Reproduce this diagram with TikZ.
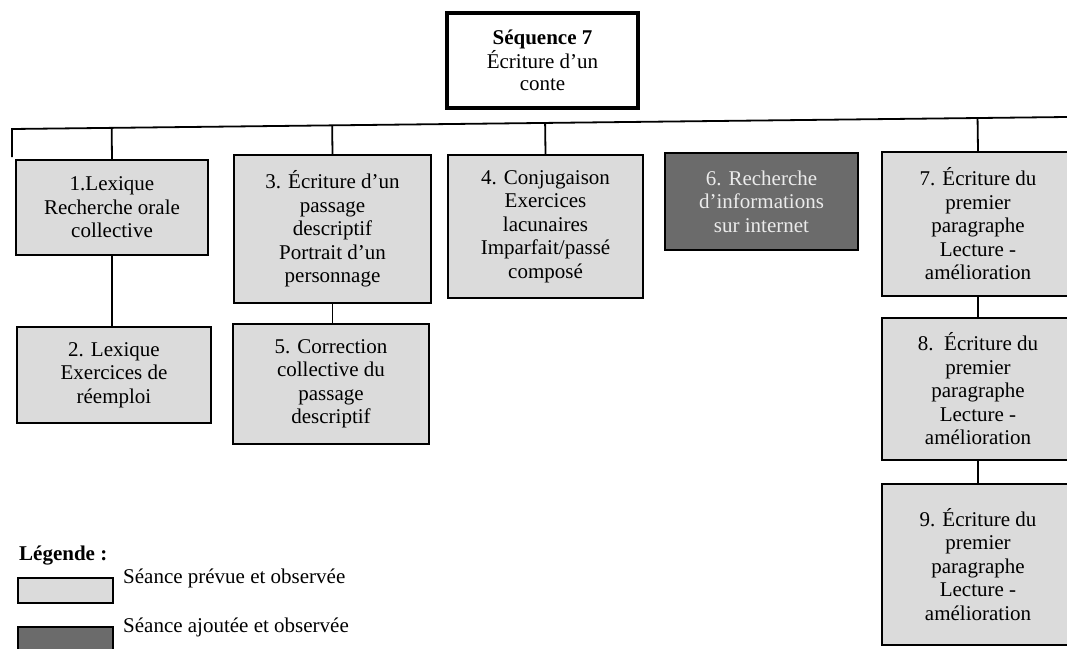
\documentclass[tikz,border=0pt]{standalone}
\usepackage{fontspec}
\setmainfont{Liberation Serif}
\usetikzlibrary{calc}
\definecolor{planned}{HTML}{DBDBDB}
\definecolor{added}{HTML}{6B6B6B}
\begin{document}
\begin{tikzpicture}[x=1pt,y=-1pt,
  box/.style={draw=black, line width=2pt, fill=planned, align=center,
    inner sep=0pt, font=\fontsize{21}{23.5}\selectfont},
  addedbox/.style={box, fill=added, text=white!92!black},
  link/.style={line width=1.8pt},
  legtext/.style={anchor=west, inner sep=0pt, font=\fontsize{21}{24}\selectfont}]
\useasboundingbox (0,0) rectangle (1067,648);
\clip (0,0) rectangle (1067,648);

% sequence title
\node[box, fill=white, line width=3.5pt, minimum width=191pt, minimum height=95pt,
  font=\fontsize{21}{22}\selectfont]
  (seq) at (542.5,60.5) {\textbf{Séquence 7}\\Écriture d’un\\conte};

% sessions
\node[box, minimum width=192pt, minimum height=95pt] (b1) at (112,207.5)
  {1.Lexique\\Recherche orale\\collective};
\node[box, minimum width=194pt, minimum height=96pt] (b2) at (114,375)
  {2. Lexique\\Exercices de\\réemploi};
\node[box, minimum width=197pt, minimum height=148pt] (b3) at (332.5,229)
  {3. Écriture d’un\\passage\\descriptif\\Portrait d’un\\personnage};
\node[box, minimum width=196pt, minimum height=120pt] (b5) at (331,384)
  {5. Correction\\collective du\\passage\\descriptif};
\node[box, minimum width=195pt, minimum height=143pt] (b4) at (545.5,226.5)
  {4. Conjugaison\\Exercices\\lacunaires\\Imparfait/passé\\composé};
\node[addedbox, minimum width=193pt, minimum height=97pt] (b6) at (761.5,201.5)
  {6. Recherche\\d’informations\\sur internet};
\node[box, minimum width=192pt, minimum height=144pt] (b7) at (978,224)
  {7. Écriture du\\premier\\paragraphe\\Lecture -\\amélioration};
\node[box, minimum width=192pt, minimum height=142pt] (b8) at (978,389)
  {8.~~Écriture du\\premier\\paragraphe\\Lecture -\\amélioration};
\node[box, minimum width=192pt, minimum height=161pt] (b9) at (978,564.5)
  {9. Écriture du\\premier\\paragraphe\\Lecture -\\amélioration};

% branching line
\coordinate (busL) at (12,129);
\coordinate (busR) at (1067,117);
\coordinate (tickEnd) at (12,157);
\draw[link] (tickEnd) -- (busL) -- (busR);
\foreach \b in {b1,b3,b4,b7}
  \draw[link] ($(busL)!(\b.north)!(busR)$) -- (\b.north);
\draw[link] (b1.south) -- (b1.south |- b2.north);
\draw[link] (b3.south) -- (b3.south |- b5.north);
\draw[link] (b7.south) -- (b8.north);
\draw[link] (b8.south) -- (b9.north);

% legend
\node[legtext, font=\bfseries\fontsize{21}{24}\selectfont] (legtitle) at (19,556) {Légende :};
\node[box, line width=1.6pt, minimum width=95pt, minimum height=25pt] (legA) at (65.5,590.5) {};
\node[legtext] (legAtxt) at (123,578) {Séance prévue et observée};
\node[box, fill=added, line width=1.6pt, minimum width=95pt, minimum height=25pt] (legB) at (65.5,639.5) {};
\node[legtext] (legBtxt) at (123,627) {Séance ajoutée et observée};
\end{tikzpicture}
\end{document}
